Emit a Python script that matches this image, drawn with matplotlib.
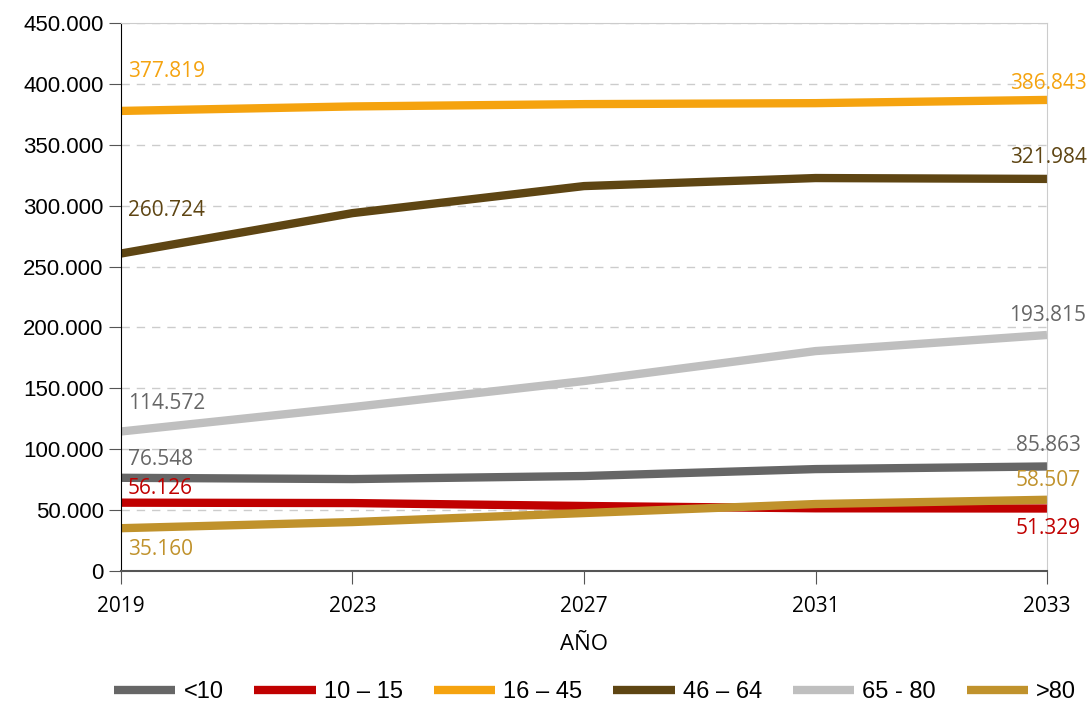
import matplotlib.pyplot as plt
from matplotlib.ticker import FuncFormatter

years = ["2019", "2023", "2027", "2031", "2033"]
groups = ["<10", "10 – 15", "16 – 45", "46 – 64", "65 - 80", ">80"]
menores10 = [76548, 75500, 78000, 83700, 85863]
de10a15 = [56126, 55800, 53400, 51500, 51329]
de16a45 = [377819, 381500, 383400, 384200, 386843]
de46a64 = [260724, 293900, 316100, 322700, 321984]
de65a80 = [114572, 134600, 156000, 180600, 193815]
mayores80 = [35160, 40200, 47600, 55000, 58507]
colors = ["#666666", "#C00000", "#F5A30F", "#5E4513", "#BFBFBF", "#C0922C"]
label_colors = ["#666666", "#C00000", "#F5A30F", "#5E4513", "#666666", "#C0922C"]

series = [menores10, de10a15, de16a45, de46a64, de65a80, mayores80]
# vertical pixel offsets of first / last value labels
off_first = [18, 14, 39, 43, 28, -21]
off_last = [21, -20, 16, 21, 19, 19]


def fmt(v, pos=None):
    return f"{int(v):,}".replace(",", ".")


fig = plt.figure(figsize=(10.92, 7.04), dpi=100)
ax = fig.add_axes([0.1108, 0.1889, 0.848, 0.7784])
x = list(range(len(years)))

for name, vals, c in zip(groups, series, colors):
    ax.plot(x, vals, color=c, lw=6, label=name, solid_capstyle="butt")

for vals, c, o1, o2 in zip(series, label_colors, off_first, off_last):
    ax.annotate(fmt(vals[0]), (x[0], vals[0]), xytext=(7, o1),
                textcoords="offset pixels", ha="left", va="center",
                color=c, fontsize=15, family="Open Sans")
    ax.annotate(fmt(vals[-1]), (x[-1], vals[-1]), xytext=(1, o2),
                textcoords="offset pixels", ha="center", va="center",
                color=c, fontsize=15, family="Open Sans")

ax.set_xlim(0, len(years) - 1)
ax.set_ylim(0, 450000)
ax.set_yticks(range(0, 450001, 50000))
ax.yaxis.set_major_formatter(FuncFormatter(fmt))
ax.set_xticks(x)
ax.set_xticklabels(years, family="Open Sans", fontsize=15)
ax.tick_params(axis="y", labelsize=16, length=9, color="#555555")
ax.tick_params(axis="x", length=9, color="#555555", pad=9)
for lab in ax.get_yticklabels():
    lab.set_family("Liberation Sans")
ax.yaxis.grid(True, ls=(0, (6, 5)), color="#CCCCCC", lw=1)
ax.set_axisbelow(True)

ax.spines["left"].set_color("black")
ax.spines["bottom"].set_color("#555555")
ax.spines["bottom"].set_linewidth(1.5)
ax.spines["top"].set_color("#CCCCCC")
ax.spines["right"].set_color("#CCCCCC")

ax.set_xlabel("AÑO", fontsize=16, family="Open Sans", labelpad=12)

fig.legend(loc="center", bbox_to_anchor=(0.545, 0.017), ncol=6, frameon=False,
           handlelength=2.6, columnspacing=1.3, handletextpad=0.35,
           prop={"family": "Liberation Sans", "size": 17})

fig.savefig("out.png", dpi=100)
